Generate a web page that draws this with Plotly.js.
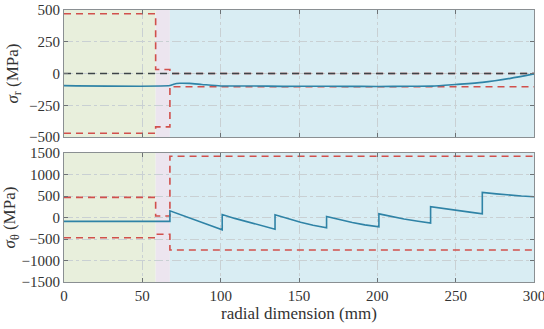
<!DOCTYPE html>
<html>
<head>
<meta charset="utf-8">
<script src="https://cdn.plot.ly/plotly-3.0.1.min.js"></script>
<style>html,body{margin:0;padding:0;background:#fff;}#chart{width:544px;height:329px;}</style>
</head>
<body>
<div id="chart"></div>
<script>
// Region boundaries (mm) and colours
const regionStart = [0, 58.5, 67.6];
const regionEnd = [58.5, 67.6, 300];
const regionColors = ['#e8efdc', '#ece5ef', '#d9edf3'];

// Radial stress (top)
const xR = [0, 67.6, 70, 74, 80, 88, 100, 120, 140, 160, 180, 200, 220, 235, 250, 267, 285, 300];
const sigmaR = [-95, -95, -84, -77, -78, -86, -98, -98, -101, -100, -101, -102, -100, -99, -86, -70, -38, -3];
const limRx = [0, 58.5, 58.5, 67.6, 67.6, 300];
const limRUpper = [470, 470, 32, 32, 0, 0];
const limRLower = [-470, -470, -420, -420, -104, -104];
const zeroX = [0, 300];
const zeroY = [0, 0];

// Hoop stress (bottom)
const xT = [0, 67.6, 67.6, 76, 85, 93, 101, 101, 109, 118, 126, 134.7, 134.7, 143, 151, 159, 167.6, 167.6, 176, 184, 192, 201, 201, 209, 217, 226, 234, 234, 242, 250, 259, 267, 267, 276, 284, 292, 300];
const sigmaT = [-90, -90, 157, 40, -70, -180, -287, 70, -20, -110, -190, -271, 63, -30, -110, -180, -241, 23, -50, -115, -170, -217, 86, 20, -35, -85, -131, 250, 205, 165, 125, 86, 584, 550, 520, 500, 484];
const limTx = [0, 58.5, 58.5, 67.6, 67.6, 300];
const limTUpper = [470, 470, 35, 35, 1425, 1425];
const limTLower = [-470, -470, -390, -390, -755, -755];

const blue = '#2f83a6';
const red = '#d1504c';
const dark = '#3d4448';
const serif = "'Liberation Serif', 'DejaVu Serif', serif";

const traces = [
  {x: limRx, y: limRUpper, xaxis: 'x', yaxis: 'y', mode: 'lines', line: {color: red, width: 1.6, dash: '7px,5px'}},
  {x: zeroX, y: zeroY, xaxis: 'x', yaxis: 'y', mode: 'lines', line: {color: dark, width: 1.6, dash: '7px,5px'}},
  {x: limRx, y: limRLower, xaxis: 'x', yaxis: 'y', mode: 'lines', line: {color: red, width: 1.6, dash: '7px,5px'}},
  {x: xR, y: sigmaR, xaxis: 'x', yaxis: 'y', mode: 'lines', line: {color: blue, width: 1.6, shape: 'spline', smoothing: 0.6}},
  {x: limTx, y: limTUpper, xaxis: 'x2', yaxis: 'y2', mode: 'lines', line: {color: red, width: 1.6, dash: '7px,5px'}},
  {x: limTx, y: limTLower, xaxis: 'x2', yaxis: 'y2', mode: 'lines', line: {color: red, width: 1.6, dash: '7px,5px'}},
  {x: xT, y: sigmaT, xaxis: 'x2', yaxis: 'y2', mode: 'lines', line: {color: blue, width: 1.6}}
];

const shapes = [];
for (let i = 0; i < regionStart.length; i++) {
  shapes.push({type: 'rect', xref: 'x', yref: 'y domain', x0: regionStart[i], x1: regionEnd[i], y0: 0, y1: 1, fillcolor: regionColors[i], line: {width: 0}, layer: 'below'});
  shapes.push({type: 'rect', xref: 'x2', yref: 'y2 domain', x0: regionStart[i], x1: regionEnd[i], y0: 0, y1: 1, fillcolor: regionColors[i], line: {width: 0}, layer: 'below'});
}

const axisCommon = {
  showline: true, linecolor: '#8a8f92', linewidth: 1, mirror: 'ticks',
  ticks: 'inside', ticklen: 4, tickcolor: '#6d7275',
  showgrid: true, gridcolor: '#c9d0d3', griddash: 'dashdot', gridwidth: 1,
  zeroline: false, tickfont: {family: serif, size: 15, color: '#333'}, ticklabeloverflow: 'allow'
};

const layout = {
  width: 544, height: 329,
  margin: {l: 64, r: 10, t: 10, b: 47},
  paper_bgcolor: '#fff', plot_bgcolor: '#fff',
  showlegend: false,
  font: {family: serif, color: '#333'},
  xaxis: Object.assign({}, axisCommon, {domain: [0, 1], anchor: 'y', range: [0, 300], tickvals: [0, 50, 100, 150, 200, 250, 300], showticklabels: false}),
  yaxis: Object.assign({}, axisCommon, {domain: [0.533, 1], anchor: 'x', range: [-500, 500], tickvals: [-500, -250, 0, 250, 500],
    title: {text: '<i>σ</i><sub>r</sub> (MPa)', font: {family: serif, size: 17}, standoff: 6}}),
  xaxis2: Object.assign({}, axisCommon, {domain: [0, 1], anchor: 'y2', range: [0, 300], tickvals: [0, 50, 100, 150, 200, 250, 300],
    title: {text: 'radial dimension (mm)', font: {family: serif, size: 17}, standoff: 2}}),
  yaxis2: Object.assign({}, axisCommon, {domain: [0, 0.474], anchor: 'x2', range: [-1500, 1500], tickvals: [-1500, -1000, -500, 0, 500, 1000, 1500],
    title: {text: '<i>σ</i><sub>θ</sub> (MPa)', font: {family: serif, size: 17}, standoff: 6}}),
  shapes: shapes
};

Plotly.newPlot('chart', traces, layout, {displayModeBar: false, staticPlot: true});
</script>
</body>
</html>
